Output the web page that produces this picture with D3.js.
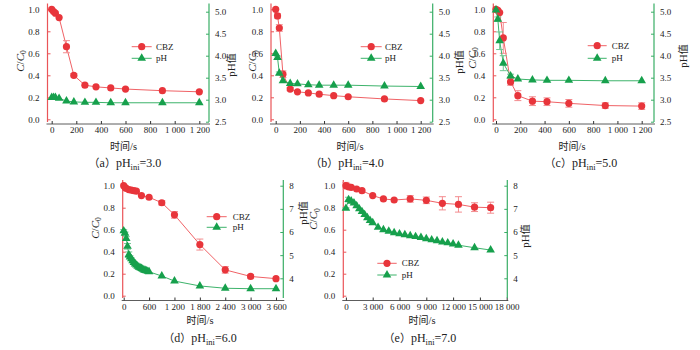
<!DOCTYPE html>
<meta charset="utf-8">
<style>
body { margin: 0; background: #fff; }
text { font-family: "Liberation Serif", "Times New Roman", serif; fill: #222; }
.cjk { font-family: "Noto Sans CJK SC", sans-serif; }
</style>
<body>
<script src="https://d3js.org/d3.v7.min.js"></script>
<script>

// (a) pH_ini = 3.0
var aTime   = [0, 15, 30, 60, 120, 180, 270, 360, 480, 600, 900, 1200];
var aCbz    = [1.0, 0.98, 0.965, 0.925, 0.66, 0.40, 0.31, 0.295, 0.285, 0.275, 0.26, 0.25];
var aCbzErr = [0, 0.005, 0.01, 0.01, 0.055, 0.015, 0.01, 0.01, 0.01, 0.01, 0.01, 0.01];
var aPh     = [3.05, 3.05, 3.05, 3.03, 2.97, 2.95, 2.94, 2.94, 2.93, 2.93, 2.93, 2.93];
var aPhErr  = [0, 0, 0, 0, 0, 0, 0, 0, 0, 0, 0, 0];

// (b) pH_ini = 4.0
var bTime   = [0, 15, 30, 60, 120, 180, 270, 360, 480, 600, 900, 1200];
var bCbz    = [1.0, 0.94, 0.83, 0.41, 0.275, 0.25, 0.24, 0.228, 0.215, 0.205, 0.185, 0.17];
var bCbzErr = [0, 0.02, 0.03, 0.03, 0.015, 0.01, 0.01, 0.01, 0.01, 0.01, 0.01, 0.01];
var bPh     = [4.05, 3.96, 3.6, 3.43, 3.37, 3.36, 3.34, 3.33, 3.33, 3.33, 3.31, 3.30];
var bPhErr  = [0, 0.03, 0.03, 0.02, 0, 0, 0, 0, 0, 0, 0, 0];

// (c) pH_ini = 5.0
var cTime   = [0, 15, 30, 60, 120, 180, 300, 420, 600, 900, 1200];
var cCbz    = [1.0, 0.99, 0.97, 0.74, 0.34, 0.215, 0.165, 0.16, 0.145, 0.125, 0.12];
var cCbzErr = [0.01, 0.01, 0.01, 0.14, 0.03, 0.045, 0.04, 0.035, 0.035, 0.025, 0.03];
var cPh     = [5.04, 4.83, 4.34, 3.83, 3.54, 3.47, 3.45, 3.44, 3.44, 3.43, 3.43];
var cPhErr  = [0.02, 0.05, 0.2, 0.17, 0.04, 0.02, 0.01, 0.01, 0.01, 0.01, 0.01];

// (d) pH_ini = 6.0
var dTime   = [0, 30, 60, 120, 180, 240, 300, 420, 600, 900, 1200, 1800, 2400, 3000, 3600];
var dCbz    = [1.0, 0.985, 0.975, 0.965, 0.96, 0.955, 0.95, 0.91, 0.895, 0.845, 0.735, 0.465, 0.235, 0.175, 0.155];
var dCbzErr = [0.01, 0.01, 0.01, 0.01, 0.01, 0.01, 0.01, 0.01, 0.01, 0.02, 0.03, 0.05, 0.03, 0.015, 0.01];
var dPhTime = [0, 30, 60, 90, 120, 150, 180, 210, 240, 270, 300, 330, 360, 390, 420, 450, 480, 510, 540, 570, 600,
               900, 1200, 1800, 2400, 3000, 3600];
var dPh     = [6.05, 5.95, 5.72, 5.38, 5.02, 4.92, 4.84, 4.76, 4.68, 4.62, 4.57, 4.52, 4.48, 4.45, 4.42, 4.39, 4.36,
               4.34, 4.32, 4.30, 4.28, 4.10, 3.88, 3.67, 3.57, 3.55, 3.55];
var dPhErr  = [0.05, 0.05, 0.08, 0.12, 0.12, 0.05, 0.04, 0.03, 0.03, 0.02, 0.02, 0.02, 0.02, 0.02, 0.02, 0.02, 0.02,
               0.02, 0.02, 0.02, 0.02, 0.02, 0.02, 0.02, 0.02, 0.02, 0.02];

// (e) pH_ini = 7.0
var eTime   = [0, 300, 600, 1200, 1800, 3000, 4200, 5400, 7200, 9000, 10800, 12600, 14400, 16200];
var eCbz    = [1.0, 0.99, 0.985, 0.97, 0.955, 0.91, 0.88, 0.87, 0.88, 0.867, 0.84, 0.83, 0.805, 0.80];
var eCbzErr = [0.03, 0.01, 0.01, 0.01, 0.01, 0.01, 0.01, 0.01, 0.03, 0.03, 0.06, 0.07, 0.04, 0.05];
var ePhTime = [0, 300, 600, 900, 1200, 1500, 1800, 2100, 2400, 2700, 3000, 3600, 4200, 4800, 5400, 6000, 6600,
               7200, 7800, 8400, 9000, 9600, 10200, 10800, 11400, 12000, 12600, 14400, 16200];
var ePh     = [7.02, 7.40, 7.33, 7.25, 7.13, 7.0, 6.88, 6.75, 6.62, 6.5, 6.4, 6.2, 6.1, 6.03, 5.97, 5.92, 5.88,
               5.84, 5.8, 5.76, 5.71, 5.66, 5.62, 5.57, 5.53, 5.48, 5.43, 5.32, 5.22];
var ePhErr  = [0.03, 0.1, 0.05, 0.03, 0.02, 0.02, 0.02, 0.02, 0.02, 0.02, 0.02, 0.02, 0.02, 0.02, 0.02, 0.02, 0.02,
               0.02, 0.02, 0.02, 0.02, 0.02, 0.02, 0.02, 0.02, 0.02, 0.02, 0.02, 0.02];

// tick labels
var topXTicks  = [0, 200, 400, 600, 800, 1000, 1200];
var dXTicks    = [0, 600, 1200, 1800, 2400, 3000, 3600];
var eXTicks    = [0, 3000, 6000, 9000, 12000, 15000, 18000];
var cTicks     = [0, 0.2, 0.4, 0.6, 0.8, 1.0];
var topPhTicks = [2.5, 3.0, 3.5, 4.0, 4.5, 5.0];
var botPhTicks = [4, 5, 6, 7, 8];
var captions   = ["a", "b", "c", "d", "e"];
var phIni      = ["3.0", "4.0", "5.0", "6.0", "7.0"];

var RED = "#e8353b", RED_LINE = "#f06266", RED_AX = "#ea5458", RED_ERR = "#f38c8f";
var GRN = "#16a04c", GRN_LINE = "#3db36b", GRN_AX = "#38ad65", GRN_ERR = "#70c792";

var W = 700, H = 350;
var svg = d3.select("body").append("svg").attr("width", W).attr("height", H);

function fmtX(d) { return d3.format(",")(d).replace(/,/g, " "); }

function panel(p) {
  var g = svg.append("g");
  var x = d3.scaleLinear().domain([0, p.xMax]).range([p.x0, p.x1]);
  var y = d3.scaleLinear().domain([0, 1]).range([p.y0, p.y1]);
  var yr = d3.scaleLinear().domain(p.rDom).range(p.rPix);

  // bottom black axis
  var xa = g.append("g").attr("transform", "translate(0," + p.base + ")")
    .call(d3.axisBottom(x).tickValues(p.xTicks).tickSizeInner(-3).tickSizeOuter(0).tickPadding(3).tickFormat(fmtX));
  xa.select(".domain").remove();
  xa.selectAll("line").attr("stroke", "#333");
  xa.selectAll("text").style("font-size", "9px").style("font-family", "Liberation Serif").attr("fill", "#222");
  g.append("line").attr("x1", p.left - 1).attr("x2", p.right + 1).attr("y1", p.base).attr("y2", p.base)
    .attr("stroke", "#333").attr("stroke-width", 0.8);

  // left red axis
  var ya = g.append("g").attr("transform", "translate(" + p.left + ",0)")
    .call(d3.axisLeft(y).tickValues(cTicks).tickSizeInner(-3).tickSizeOuter(0).tickPadding(8).tickFormat(d3.format(".1f")));
  ya.select(".domain").remove();
  ya.selectAll("line").attr("stroke", RED_AX);
  ya.selectAll("text").style("font-size", "9px").style("font-family", "Liberation Serif").attr("fill", "#222");
  g.append("line").attr("x1", p.left).attr("x2", p.left).attr("y1", p.top).attr("y2", p.bot)
    .attr("stroke", RED_AX).attr("stroke-width", 1.2);

  // right green axis
  var yra = g.append("g").attr("transform", "translate(" + p.right + ",0)")
    .call(d3.axisRight(yr).tickValues(p.rTicks).tickSizeInner(-3).tickSizeOuter(0).tickPadding(6).tickFormat(p.rFmt));
  yra.select(".domain").remove();
  yra.selectAll("line").attr("stroke", GRN_AX);
  yra.selectAll("text").style("font-size", "9px").style("font-family", "Liberation Serif").attr("fill", "#222");
  g.append("line").attr("x1", p.right).attr("x2", p.right).attr("y1", p.top).attr("y2", p.bot)
    .attr("stroke", GRN_AX).attr("stroke-width", 1.2);

  // CBZ series
  var cbz = p.t.map(function(t, i) { return { t: t, v: p.cbz[i], e: p.cbzErr[i] }; });
  g.append("path").datum(cbz)
    .attr("d", d3.line().x(function(d) { return x(d.t); }).y(function(d) { return y(d.v); }))
    .attr("fill", "none").attr("stroke", RED_LINE).attr("stroke-width", 1);
  var eb = g.selectAll(".ebr").data(cbz.filter(function(d) { return d.e > 0.012; })).enter().append("g")
    .attr("stroke", RED_ERR).attr("stroke-width", 1);
  eb.append("line").attr("x1", function(d) { return x(d.t); }).attr("x2", function(d) { return x(d.t); })
    .attr("y1", function(d) { return y(d.v - d.e); }).attr("y2", function(d) { return y(d.v + d.e); });
  [-1, 1].forEach(function(s) {
    eb.append("line").attr("x1", function(d) { return x(d.t) - 3.5; }).attr("x2", function(d) { return x(d.t) + 3.5; })
      .attr("y1", function(d) { return y(d.v + s * d.e); }).attr("y2", function(d) { return y(d.v + s * d.e); });
  });
  g.selectAll(".cbz").data(cbz).enter().append("circle")
    .attr("cx", function(d) { return x(d.t); }).attr("cy", function(d) { return y(d.v); })
    .attr("r", 3.6).attr("fill", RED);

  // pH series
  var ph = p.pt.map(function(t, i) { return { t: t, v: p.ph[i], e: p.phErr[i] }; });
  g.append("path").datum(ph)
    .attr("d", d3.line().x(function(d) { return x(d.t); }).y(function(d) { return yr(d.v); }))
    .attr("fill", "none").attr("stroke", GRN_LINE).attr("stroke-width", 1);
  var ebg = g.selectAll(".ebg").data(ph.filter(function(d) { return d.e > 0.025; })).enter().append("g")
    .attr("stroke", GRN_ERR).attr("stroke-width", 1);
  ebg.append("line").attr("x1", function(d) { return x(d.t); }).attr("x2", function(d) { return x(d.t); })
    .attr("y1", function(d) { return yr(d.v - d.e); }).attr("y2", function(d) { return yr(d.v + d.e); });
  [-1, 1].forEach(function(s) {
    ebg.append("line").attr("x1", function(d) { return x(d.t) - 3.5; }).attr("x2", function(d) { return x(d.t) + 3.5; })
      .attr("y1", function(d) { return yr(d.v + s * d.e); }).attr("y2", function(d) { return yr(d.v + s * d.e); });
  });
  var tri = d3.symbol().type(d3.symbolTriangle).size(32);
  g.selectAll(".ph").data(ph).enter().append("path")
    .attr("d", tri)
    .attr("transform", function(d) { return "translate(" + x(d.t) + "," + yr(d.v) + ")"; })
    .attr("fill", GRN);

  // legend
  var L = p.leg;
  g.append("line").attr("x1", L.x1).attr("x2", L.x2).attr("y1", L.y1).attr("y2", L.y1).attr("stroke", RED_LINE);
  g.append("circle").attr("cx", (L.x1 + L.x2) / 2).attr("cy", L.y1).attr("r", 3.6).attr("fill", RED);
  g.append("text").attr("x", L.tx).attr("y", L.y1 + 3).style("font-size", "9px").text("CBZ");
  g.append("line").attr("x1", L.x1).attr("x2", L.x2).attr("y1", L.y2).attr("y2", L.y2).attr("stroke", GRN_LINE);
  g.append("path").attr("d", tri).attr("transform", "translate(" + (L.x1 + L.x2) / 2 + "," + L.y2 + ")").attr("fill", GRN);
  g.append("text").attr("x", L.tx).attr("y", L.y2 + 3).style("font-size", "9px").text("pH");

  // axis titles
  var ct = g.append("text").attr("transform", "translate(" + p.cLab[0] + "," + p.cLab[1] + ") rotate(-90)")
    .attr("text-anchor", "middle").attr("dy", "0.35em").style("font-size", "11px");
  ct.append("tspan").style("font-style", "italic").text("C");
  ct.append("tspan").text("/");
  ct.append("tspan").style("font-style", "italic").text("C");
  ct.append("tspan").attr("dy", "2.5").style("font-size", "7.5px").text("0");

  var pt = g.append("text").attr("transform", "translate(" + p.pLab[0] + "," + p.pLab[1] + ") rotate(-90)")
    .attr("text-anchor", "middle").attr("dy", "0.35em").style("font-size", "11px");
  pt.append("tspan").text("pH");
  pt.append("tspan").attr("class", "cjk").style("font-size", "10px").text("值");

  var xt = g.append("text").attr("x", p.xLab[0]).attr("y", p.xLab[1]).attr("text-anchor", "middle")
    .attr("dy", "0.35em").style("font-size", "10.5px");
  xt.append("tspan").attr("class", "cjk").style("font-size", "10px").text("时间");
  xt.append("tspan").text("/s");

  var cap = g.append("text").attr("x", p.cap[0]).attr("y", p.cap[1]).attr("text-anchor", "middle")
    .attr("dy", "0.35em").style("font-size", "12px");
  cap.append("tspan").attr("class", "cjk").style("font-size", "11px").text("（");
  cap.append("tspan").text(captions[p.k]);
  cap.append("tspan").attr("class", "cjk").style("font-size", "11px").text("）");
  cap.append("tspan").text("pH");
  cap.append("tspan").attr("dy", "3").style("font-size", "8.5px").text("ini");
  cap.append("tspan").attr("dy", "-3").text("=" + phIni[p.k]);
}

var topRow = { y0: 119.3, y1: 9.3, rDom: [2.5, 5.0], rPix: [121.7, 11.7], rTicks: topPhTicks,
  rFmt: d3.format(".1f"), top: 3.5, bot: 122, base: 124, xMax: 1200, xTicks: topXTicks };
var botRow = { y0: 295.7, y1: 185.7, rDom: [4, 8], rPix: [278.3, 185.7], rTicks: botPhTicks,
  rFmt: d3.format("d"), top: 180, bot: 298, base: 300.5 };

panel(Object.assign({}, topRow, { k: 0, x0: 51.7, x1: 199.3, left: 47.5, right: 209,
  t: aTime, cbz: aCbz, cbzErr: aCbzErr, pt: aTime, ph: aPh, phErr: aPhErr,
  leg: { x1: 131.7, x2: 151.7, tx: 156, y1: 46.7, y2: 58.3 },
  cLab: [20, 61], pLab: [231, 65], xLab: [123.5, 146], cap: [125, 163] }));

panel(Object.assign({}, topRow, { k: 1, x0: 275.7, x1: 420.7, left: 271, right: 432.7,
  t: bTime, cbz: bCbz, cbzErr: bCbzErr, pt: bTime, ph: bPh, phErr: bPhErr,
  leg: { x1: 360.7, x2: 381.7, tx: 385, y1: 46.7, y2: 58.3 },
  cLab: [252.5, 61], pLab: [459, 62], xLab: [350, 146], cap: [347, 163] }));

panel(Object.assign({}, topRow, { k: 2, x0: 496, x1: 641.7, left: 493.3, right: 654,
  t: cTime, cbz: cCbz, cbzErr: cCbzErr, pt: cTime, ph: cPh, phErr: cPhErr,
  leg: { x1: 587.7, x2: 606.7, tx: 611.7, y1: 45.7, y2: 58.3 },
  cLab: [472, 58], pLab: [683, 56], xLab: [572, 146], cap: [581, 163] }));

panel(Object.assign({}, botRow, { k: 3, x0: 123.7, x1: 276, xMax: 3600, xTicks: dXTicks, left: 122.7, right: 283.3,
  t: dTime, cbz: dCbz, cbzErr: dCbzErr, pt: dPhTime, ph: dPh, phErr: dPhErr,
  leg: { x1: 206.7, x2: 226.7, tx: 232.7, y1: 216.7, y2: 227.3 },
  cLab: [95, 228], pLab: [303, 213], xLab: [200, 320.7], cap: [200, 338] }));

panel(Object.assign({}, botRow, { k: 4, x0: 345.9, x1: 506.7, xMax: 18000, xTicks: eXTicks, left: 343.3, right: 507.3,
  t: eTime, cbz: eCbz, cbzErr: eCbzErr, pt: ePhTime, ph: ePh, phErr: ePhErr,
  leg: { x1: 377.3, x2: 396.7, tx: 401.7, y1: 263.3, y2: 275 },
  cLab: [313.5, 219], pLab: [525, 236], xLab: [422, 320.7], cap: [420, 338] }));

</script>
</body>
